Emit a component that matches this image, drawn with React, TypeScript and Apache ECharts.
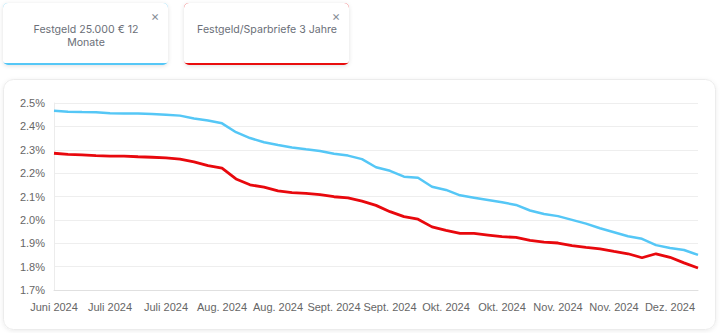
import React, { useEffect, useRef } from "react";
import * as echarts from "echarts";

const dates = [
  "2024-06-20", "2024-06-24", "2024-06-28", "2024-07-01", "2024-07-05", "2024-07-09", "2024-07-13", "2024-07-16",
  "2024-07-20", "2024-07-24", "2024-07-28", "2024-07-31", "2024-08-04", "2024-08-08", "2024-08-12", "2024-08-15",
  "2024-08-19", "2024-08-23", "2024-08-27", "2024-08-30", "2024-09-03", "2024-09-07", "2024-09-11", "2024-09-14",
  "2024-09-18", "2024-09-22", "2024-09-26", "2024-09-29", "2024-10-03", "2024-10-07", "2024-10-11", "2024-10-14",
  "2024-10-18", "2024-10-22", "2024-10-26", "2024-10-29", "2024-11-02", "2024-11-06", "2024-11-10", "2024-11-13",
  "2024-11-17", "2024-11-21", "2024-11-25", "2024-11-28", "2024-12-02", "2024-12-06", "2024-12-10",
];

const festgeld12 = [
  2.467, 2.463, 2.461, 2.46, 2.456, 2.455, 2.455, 2.453, 2.45, 2.446, 2.434, 2.425,
  2.413, 2.375, 2.35, 2.332, 2.32, 2.31, 2.302, 2.295, 2.283, 2.275, 2.26, 2.225,
  2.21, 2.185, 2.18, 2.142, 2.128, 2.105, 2.095, 2.085, 2.075, 2.064, 2.04, 2.025,
  2.016, 2.0, 1.984, 1.964, 1.947, 1.93, 1.919, 1.892, 1.88, 1.871, 1.85,
];

const sparbriefe3 = [
  2.285, 2.28, 2.278, 2.275, 2.273, 2.273, 2.27, 2.268, 2.265, 2.26, 2.248, 2.232,
  2.221, 2.175, 2.15, 2.14, 2.124, 2.117, 2.113, 2.108, 2.099, 2.094, 2.08, 2.062,
  2.035, 2.014, 2.003, 1.97, 1.955, 1.942, 1.942, 1.935, 1.928, 1.925, 1.912, 1.905,
  1.901, 1.89, 1.882, 1.876, 1.865, 1.855, 1.838, 1.855, 1.84, 1.816, 1.794,
];

const seriesNames = ["Festgeld 25.000 € 12 Monate", "Festgeld/Sparbriefe 3 Jahre"];
const cardLabels = ["Festgeld 25.000 € 12\nMonate", "Festgeld/Sparbriefe 3 Jahre"];
const monthNames = ["Jan.", "Feb.", "März", "Apr.", "Mai", "Juni", "Juli", "Aug.", "Sept.", "Okt.", "Nov.", "Dez."];

const BLUE = "#55c7f6";
const RED = "#e8080d";

function card(x: number, label: string, color: string) {
  return {
    type: "group",
    children: [
      {
        type: "rect",
        shape: { x, y: 3, width: 165, height: 62, r: 5 },
        style: { fill: color, shadowBlur: 4, shadowColor: "rgba(0,0,0,0.12)", shadowOffsetY: 1 },
      },
      {
        type: "rect",
        shape: { x, y: 3, width: 165, height: 60, r: [5, 5, 2, 2] },
        style: { fill: "#ffffff" },
      },
      {
        type: "text",
        x: x + 83,
        y: 23,
        style: {
          text: label,
          fill: "#6b6f78",
          font: "10.6px Inter, 'Noto Sans', sans-serif",
          align: "center",
          verticalAlign: "top",
          lineHeight: 13,
        },
      },
      {
        type: "text",
        x: x + 152,
        y: 9,
        style: { text: "×", fill: "#8a8f99", font: "13px Inter, sans-serif", align: "center", verticalAlign: "top" },
      },
    ],
  };
}

export default function App() {
  const ref = useRef<HTMLDivElement>(null);
  useEffect(() => {
    document.body.style.margin = "0";
    const chart = echarts.init(ref.current!, null, { renderer: "svg" });
    chart.setOption({
      animation: false,
      backgroundColor: "#ffffff",
      graphic: [
        {
          type: "rect",
          z: -10,
          shape: { x: 3.5, y: 79.5, width: 712, height: 250, r: 10 },
          style: { fill: "#ffffff", stroke: "#ececec", lineWidth: 1, shadowBlur: 4, shadowColor: "rgba(0,0,0,0.08)", shadowOffsetY: 1 },
        },
        card(3, cardLabels[0], BLUE),
        card(184, cardLabels[1], RED),
      ],
      grid: { left: 54, right: 22, top: 103, bottom: 43, containLabel: false },
      xAxis: {
        type: "category",
        data: dates,
        boundaryGap: false,
        axisLine: { show: true, lineStyle: { color: "#e0e0e0" } },
        axisTick: { show: false },
        axisLabel: {
          interval: 3,
          margin: 11,
          color: "#666666",
          fontSize: 11,
          fontFamily: "'Liberation Sans', Arial, sans-serif",
          formatter: (v: string) => {
            const [y, m] = v.split("-");
            return monthNames[parseInt(m, 10) - 1] + " " + y;
          },
        },
        splitLine: { show: false },
      },
      yAxis: {
        type: "value",
        min: 1.7,
        max: 2.5,
        interval: 0.1,
        axisLine: { show: true, lineStyle: { color: "#ececec" } },
        axisTick: { show: false },
        axisLabel: {
          margin: 9,
          color: "#666666",
          fontSize: 11,
          fontFamily: "'Liberation Sans', Arial, sans-serif",
          formatter: (v: number) => v.toFixed(1) + "%",
        },
        splitLine: { lineStyle: { color: "#eeeeee" } },
      },
      series: [
        {
          name: seriesNames[0],
          type: "line",
          data: festgeld12,
          showSymbol: false,
          lineStyle: { color: BLUE, width: 2.5 },
          itemStyle: { color: BLUE },
        },
        {
          name: seriesNames[1],
          type: "line",
          data: sparbriefe3,
          showSymbol: false,
          lineStyle: { color: RED, width: 2.8 },
          itemStyle: { color: RED },
        },
      ],
    });
    return () => chart.dispose();
  }, []);
  return <div ref={ref} style={{ width: 720, height: 333 }} />;
}
